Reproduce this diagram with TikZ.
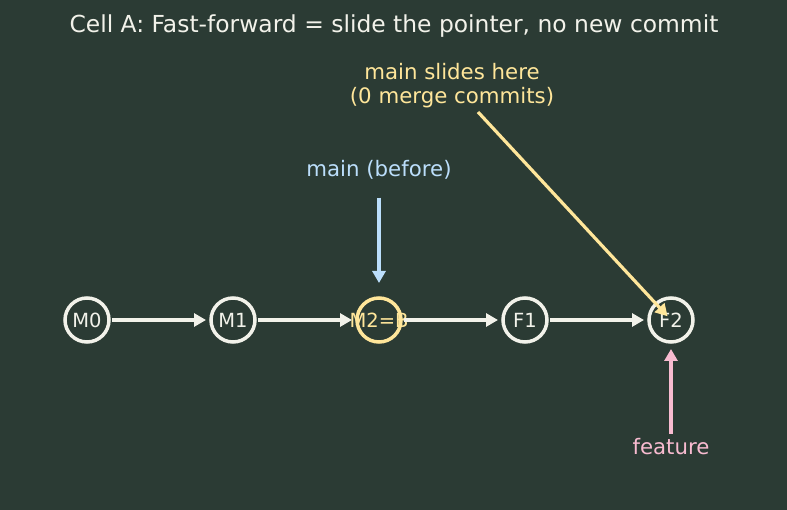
\documentclass[tikz,border=0pt]{standalone}
\usepackage{fontspec}
\setmainfont{DejaVu Sans}
\usepackage{xcolor}
\usetikzlibrary{positioning,arrows.meta}

\definecolor{bgdark}{HTML}{2B3B34}
\definecolor{chalk}{HTML}{F2F2EA}
\definecolor{butter}{HTML}{FFE69A}
\definecolor{skyblue}{HTML}{BBDEFB}
\definecolor{rosepink}{HTML}{F8BBD0}

\begin{document}
\begin{tikzpicture}[
  x=1pt, y=-1pt,
  node distance=102pt,
  lbl/.style={font=\fontsize{21.3}{24}\selectfont, align=center, inner sep=0pt},
  commit/.style={
    circle, draw=chalk, line width=3.5pt, fill=bgdark, text=chalk,
    minimum size=44pt, inner sep=0pt, outer sep=0pt,
    font=\fontsize{19.5}{20}\selectfont,
  },
  base/.style={commit, draw=butter, text=butter},
  arr/.style={-{Triangle[length=12pt,width=13pt]}, line width=3.2pt},
]

\fill[bgdark] (0,0) rectangle (787,510);

\node[lbl, text=chalk, font=\fontsize{23.4}{26}\selectfont] (title) at (394,26)
  {Cell A: Fast-forward = slide the pointer, no new commit};

% commit chain
\node[commit] (m0) at (87,320) {M0};
\node[commit, right=of m0] (m1) {M1};
\node[base, right=of m1] (m2) {\makebox[0pt]{M2=B}};
\node[commit, right=of m2] (f1) {F1};
\node[commit, right=of f1] (f2) {F2};

\draw[arr, chalk, shorten <=3pt, shorten >=5pt] (m0) -- (m1);
\draw[arr, chalk, shorten <=3pt, shorten >=5pt] (m1) -- (m2);
\draw[arr, chalk, shorten <=3pt, shorten >=5pt] (m2) -- (f1);
\draw[arr, chalk, shorten <=3pt, shorten >=5pt] (f1) -- (f2);

% branch pointers
\node[lbl, text=skyblue] (before) at (379,170) {main (before)};
\draw[arr, skyblue, shorten <=18pt, shorten >=15pt] (before.south) -- (m2.north);

\node[lbl, text=butter] (slides) at (452,86) {main slides here\\(0 merge commits)};
\coordinate (slidesfrom) at (478,112);
\draw[arr, butter, shorten >=5pt] (slidesfrom) -- (f2.center);

\node[lbl, text=rosepink] (feature) at (671,447) {feature};
\draw[arr, rosepink, shorten <=5pt, shorten >=7pt] (feature.north) -- (f2.south);

\end{tikzpicture}
\end{document}
